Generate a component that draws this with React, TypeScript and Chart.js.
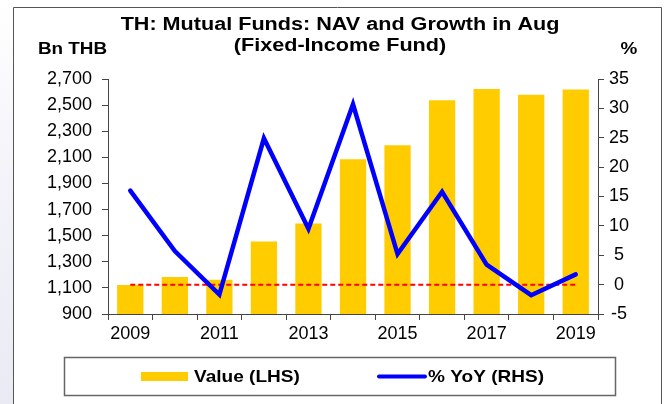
import { useEffect, useRef } from 'react';
import { Chart, registerables } from 'chart.js';

Chart.register(...registerables);

// ---- Data ----
const years = ['2009', '2010', '2011', '2012', '2013', '2014', '2015', '2016', '2017', '2018', '2019'];
const navValues = [1123, 1184, 1163, 1455, 1594, 2085, 2193, 2538, 2623, 2579, 2620];
const yoyValues = [16.0, 5.7, -1.7, 24.9, 9.5, 30.7, 5.2, 15.8, 3.4, -1.8, 1.75];
const zeroRef = [0, 0, 0, 0, 0, 0, 0, 0, 0, 0, 0];
const leftMin = 900;
const leftMax = 2700;
const leftStep = 200;
const rightMin = -5;
const rightMax = 35;
const rightStep = 5;
const titleLines = ['TH: Mutual Funds: NAV and Growth in Aug', '(Fixed-Income Fund)'];
const leftAxisTitle = 'Bn THB';
const rightAxisTitle = '%';
const legendLabels = ['Value (LHS)', '% YoY (RHS)'];

const W = 669;
const H = 404;
const FONT = "'Liberation Sans', Arial, Helvetica, sans-serif";
const BAR = '#FFCC00';
const BLUE = '#0000FF';
const RED = '#FF0000';
const AXIS = '#444444';

function drawText(
  ctx: CanvasRenderingContext2D,
  text: string,
  x: number,
  y: number,
  font: string,
  align: CanvasTextAlign,
  sx: number
) {
  ctx.save();
  ctx.translate(x, y);
  ctx.scale(sx, 1);
  ctx.font = font;
  ctx.textAlign = align;
  ctx.textBaseline = 'alphabetic';
  ctx.fillStyle = '#000';
  ctx.fillText(text, 0, 0);
  ctx.restore();
}

const decor = {
  id: 'decor',
  beforeDraw(chart: any) {
    const ctx: CanvasRenderingContext2D = chart.ctx;
    ctx.save();
    ctx.fillStyle = '#ffffff';
    ctx.fillRect(0, 0, W, H);
    const g = ctx.createLinearGradient(0, 0, 0, H);
    g.addColorStop(0, '#ffffff');
    g.addColorStop(0.45, '#f3f3f9');
    g.addColorStop(1, '#eaeaf4');
    ctx.fillStyle = g;
    ctx.fillRect(0, 0, 13, H);
    ctx.strokeStyle = '#555';
    ctx.lineWidth = 1;
    ctx.beginPath();
    ctx.moveTo(13.5, H);
    ctx.lineTo(13.5, 7.5);
    ctx.lineTo(661.5, 7.5);
    ctx.lineTo(661.5, H);
    ctx.stroke();
    ctx.restore();
  },
  afterDraw(chart: any) {
    const ctx: CanvasRenderingContext2D = chart.ctx;
    const bold18 = `bold 18px ${FONT}`;
    drawText(ctx, titleLines[0], 340, 30, bold18, 'center', 1.2);
    drawText(ctx, titleLines[1], 340, 51, bold18, 'center', 1.2);
    const bold16 = `bold 16px ${FONT}`;
    drawText(ctx, leftAxisTitle, 72.5, 54, bold16, 'center', 1.18);
    drawText(ctx, rightAxisTitle, 629, 54, bold16, 'center', 1.18);

    // legend box
    ctx.save();
    ctx.strokeStyle = '#666';
    ctx.lineWidth = 1.5;
    ctx.strokeRect(64.5, 357.5, 551, 38);
    ctx.fillStyle = BAR;
    ctx.fillRect(141, 372, 47, 9);
    ctx.strokeStyle = BLUE;
    ctx.lineWidth = 4;
    ctx.lineCap = 'round';
    ctx.beginPath();
    ctx.moveTo(379, 376.5);
    ctx.lineTo(425, 376.5);
    ctx.stroke();
    ctx.restore();
    const bold17 = `bold 17px ${FONT}`;
    drawText(ctx, legendLabels[0], 194, 382, bold17, 'left', 1.12);
    drawText(ctx, legendLabels[1], 428, 382, bold17, 'left', 1.12);
  },
};

export default function App() {
  const ref = useRef<HTMLCanvasElement | null>(null);

  useEffect(() => {
    if (!ref.current) return;
    const tickFont = { family: FONT, size: 18 };
    const chart = new Chart(ref.current, {
      type: 'bar',
      data: {
        labels: years,
        datasets: [
          {
            type: 'line',
            label: legendLabels[1],
            data: yoyValues,
            yAxisID: 'yR',
            borderColor: BLUE,
            borderWidth: 4.5,
            borderCapStyle: 'round',
            borderJoinStyle: 'miter',
            pointRadius: 0,
            tension: 0,
            fill: false,
            order: 1,
          } as any,
          {
            type: 'line',
            label: 'zero',
            data: zeroRef,
            yAxisID: 'yR',
            borderColor: RED,
            borderWidth: 2,
            borderDash: [5, 3],
            pointRadius: 0,
            tension: 0,
            fill: false,
            order: 2,
          } as any,
          {
            type: 'bar',
            label: legendLabels[0],
            data: navValues,
            yAxisID: 'yL',
            backgroundColor: BAR,
            borderWidth: 0,
            categoryPercentage: 1,
            barPercentage: 0.59,
            order: 3,
          } as any,
        ],
      },
      options: {
        responsive: false,
        animation: false,
        devicePixelRatio: 1,
        layout: { padding: { top: 79, left: 0, right: 0, bottom: 0 } },
        plugins: {
          legend: { display: false },
          title: { display: false },
          tooltip: { enabled: false },
        },
        scales: {
          x: {
            type: 'category',
            offset: true,
            grid: {
              offset: true,
              drawOnChartArea: false,
              drawTicks: true,
              tickLength: 6,
              color: AXIS,
            },
            border: { display: true, color: AXIS, width: 1 },
            ticks: {
              autoSkip: false,
              maxRotation: 0,
              color: '#000',
              font: tickFont,
              padding: 3,
              callback: (_v: any, i: number) => (i % 2 === 0 ? years[i] : ''),
            },
            afterFit: (s: any) => {
              s.height = 90;
            },
          },
          yL: {
            type: 'linear',
            position: 'left',
            min: leftMin,
            max: leftMax,
            grid: { drawOnChartArea: false, drawTicks: true, tickLength: 6, color: AXIS },
            border: { display: true, color: AXIS, width: 1 },
            ticks: {
              stepSize: leftStep,
              color: '#000',
              font: tickFont,
              padding: 10,
              callback: (v: any) => Number(v).toLocaleString('en-US'),
            },
            afterFit: (s: any) => {
              s.width = 108;
            },
          },
          yR: {
            type: 'linear',
            position: 'right',
            min: rightMin,
            max: rightMax,
            grid: { drawOnChartArea: false, drawTicks: true, tickLength: 6, color: AXIS },
            border: { display: true, color: AXIS, width: 1 },
            ticks: {
              stepSize: rightStep,
              color: '#000',
              font: tickFont,
              padding: 5,
              crossAlign: 'center',
            },
            afterFit: (s: any) => {
              s.width = W - 598;
            },
          },
        },
      } as any,
      plugins: [decor],
    });
    return () => chart.destroy();
  }, []);

  return (
    <div style={{ position: 'fixed', left: 0, top: 0, width: W, height: H }}>
      <canvas ref={ref} width={W} height={H} style={{ width: W, height: H, display: 'block' }} />
    </div>
  );
}
